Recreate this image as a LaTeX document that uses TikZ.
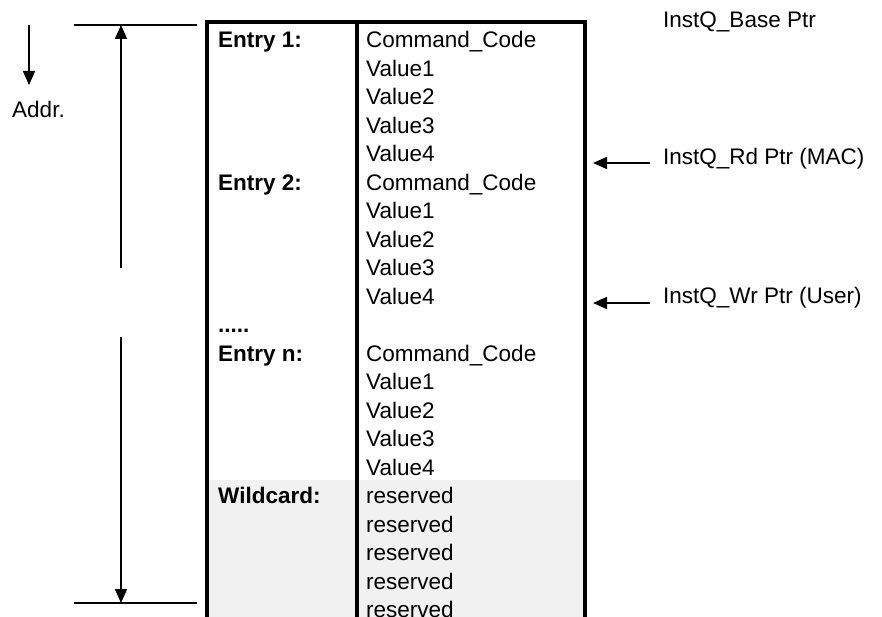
\documentclass[tikz,border=0pt]{standalone}
\usepackage{fontspec}
\setmainfont{Liberation Sans}
\usetikzlibrary{arrows.meta}
\definecolor{wcgray}{HTML}{F1F1F1}
\tikzset{
  thin line/.style={line width=1.5pt},
  thick border/.style={line width=3.5pt},
  tip/.style={-{Triangle[width=12pt,length=14pt]}},
  lbl/.style={anchor=base west, inner sep=0pt, font=\fontsize{22.5}{22.5}\selectfont},
  blbl/.style={anchor=base west, inner sep=0pt, font=\fontsize{22.5}{22.5}\selectfont\bfseries},
}
\begin{document}
\begin{tikzpicture}[x=1pt,y=-1pt]
\useasboundingbox (0,0) rectangle (882,617);
% shaded wildcard area
\fill[wcgray] (207,480) rectangle (585,617);
% table borders
\draw[thick border] (207,617) -- (207,22) -- (585,22) -- (585,617);
\draw[thick border] (357,22) -- (357,617);
% row text
\foreach \i/\t in {0/Command\_Code,1/Value1,2/Value2,3/Value3,4/Value4,
                   5/Command\_Code,6/Value1,7/Value2,8/Value3,9/Value4,
                   11/Command\_Code,12/Value1,13/Value2,14/Value3,15/Value4,
                   16/reserved,17/reserved,18/reserved,19/reserved,20/reserved}
  \node[lbl] (r\i) at (366,{39.5+28.5*\i+8.1}) {\t};
\node[blbl] (e1) at (218,{39.5+8.1}) {Entry 1:};
\node[blbl] (e2) at (218,{39.5+28.5*5+8.1}) {Entry 2:};
\node[blbl] (dots) at (218,{39.5+28.5*10+8.1}) {.....};
\node[blbl] (en) at (218,{39.5+28.5*11+8.1}) {Entry n:};
\node[blbl] (wc) at (218,{39.5+28.5*16+8.1}) {Wildcard:};
% left range marker
\coordinate (tl) at (74,25);
\coordinate (tr) at (197,25);
\coordinate (bl) at (74,603);
\coordinate (br) at (197,603);
\coordinate (top) at (121,25);
\coordinate (gapA) at (121,268);
\coordinate (gapB) at (121,337);
\coordinate (bot) at (121,603);
\draw[thin line] (tl) -- (tr);
\draw[thin line] (bl) -- (br);
\draw[thin line, tip] (gapA) -- (top);
\draw[thin line, tip] (gapB) -- (bot);
% address direction
\coordinate (a1) at (29,25);
\coordinate (a2) at (29,85);
\draw[thin line, tip] (a1) -- (a2);
\node[lbl, anchor=base] (addr) at (38.5,{109+8.1}) {Addr.};
% pointers
\node[lbl] (base) at (663,{19+8.1}) {InstQ\_Base Ptr};
\node[lbl] (rd) at (663,{156+8.1}) {InstQ\_Rd Ptr (MAC)};
\node[lbl] (wr) at (663,{295+8.1}) {InstQ\_Wr Ptr (User)};
\coordinate (rdT) at (593,163);
\coordinate (wrT) at (593,303);
\draw[thin line, tip] (rd.west |- rdT) ++(-13,0) -- (rdT);
\draw[thin line, tip] (wr.west |- wrT) ++(-13,0) -- (wrT);
\end{tikzpicture}
\end{document}
